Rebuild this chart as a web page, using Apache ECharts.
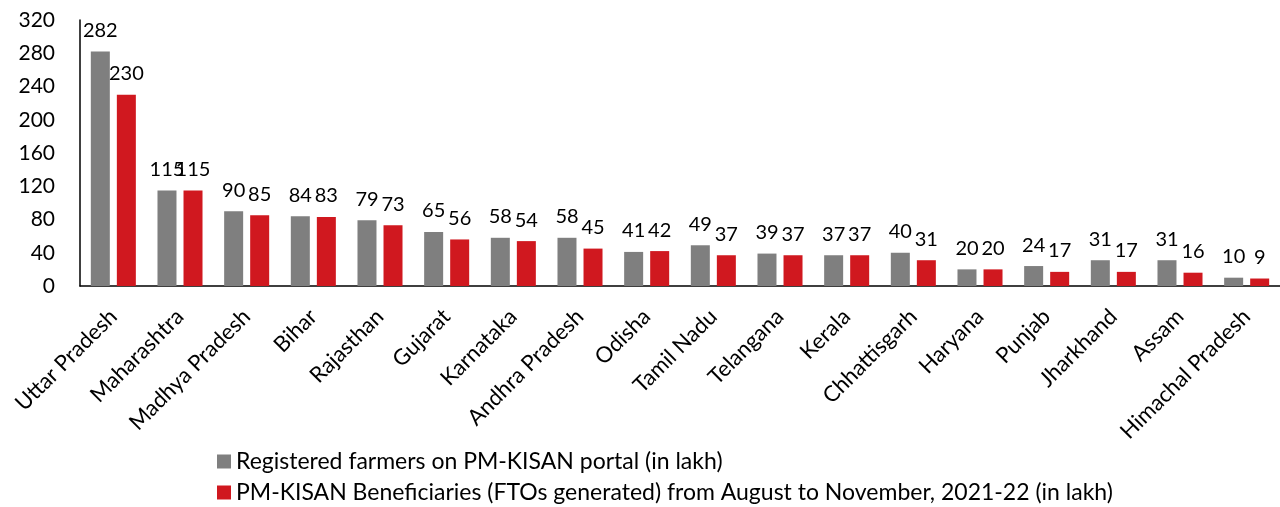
<!DOCTYPE html>
<html>
<head>
<meta charset="utf-8">
<style>
  html, body { margin: 0; padding: 0; background: #fff; }
  #chart { width: 1280px; height: 507px; }
</style>
<script src="https://cdn.jsdelivr.net/npm/echarts@6/dist/echarts.min.js"></script>
</head>
<body>
<div id="chart"></div>
<script>
const states = ['Uttar Pradesh', 'Maharashtra', 'Madhya Pradesh', 'Bihar', 'Rajasthan', 'Gujarat',
  'Karnataka', 'Andhra Pradesh', 'Odisha', 'Tamil Nadu', 'Telangana', 'Kerala', 'Chhattisgarh',
  'Haryana', 'Punjab', 'Jharkhand', 'Assam', 'Himachal Pradesh']
const registered = [282, 115, 90, 84, 79, 65, 58, 58, 41, 49, 39, 37, 40, 20, 24, 31, 31, 10]
const beneficiaries = [230, 115, 85, 83, 73, 56, 54, 45, 42, 37, 37, 37, 31, 20, 17, 17, 16, 9]

const nameReg = 'Registered farmers on PM-KISAN portal (in lakh)'
const nameBen = 'PM-KISAN Beneficiaries (FTOs generated) from August to November, 2021-22 (in lakh)'

const font = 'Lato, "Open Sans", sans-serif'
const legendText = { fontSize: 23, lineHeight: 23, color: '#000', fontFamily: font }

const chart = echarts.init(document.getElementById('chart'))
chart.setOption({
  animation: false,
  textStyle: { fontFamily: font },
  grid: { left: 80, right: 0, top: 20, bottom: 221 },
  legend: [
    {
      left: 217, top: 450, padding: 0,
      itemWidth: 14, itemHeight: 14, icon: 'rect',
      textStyle: legendText, data: [nameReg]
    },
    {
      left: 217, top: 481, padding: 0,
      itemWidth: 14, itemHeight: 14, icon: 'rect',
      textStyle: legendText, data: [nameBen]
    }
  ],
  xAxis: {
    type: 'category',
    data: states,
    axisLine: { lineStyle: { color: '#000', width: 1.5 } },
    axisTick: { show: false },
    axisLabel: {
      rotate: 45, interval: 0, fontSize: 22, color: '#000',
      margin: 27, padding: [22, 0, 0, 0]
    }
  },
  yAxis: {
    type: 'value',
    min: 0,
    max: 320,
    interval: 40,
    axisLine: { show: true, lineStyle: { color: '#000', width: 1.5 } },
    axisTick: { show: false },
    splitLine: { show: false },
    axisLabel: { fontSize: 21, color: '#000', margin: 25 }
  },
  series: [
    {
      name: nameReg,
      type: 'bar',
      data: registered,
      barWidth: 19,
      barGap: '37%',
      itemStyle: { color: '#7f7f7f' },
      label: { show: true, position: 'top', distance: 11, fontSize: 20, color: '#000' }
    },
    {
      name: nameBen,
      type: 'bar',
      data: beneficiaries,
      barWidth: 19,
      itemStyle: { color: '#d0181f' },
      label: { show: true, position: 'top', distance: 11, fontSize: 20, color: '#000' }
    }
  ]
})
</script>
</body>
</html>
